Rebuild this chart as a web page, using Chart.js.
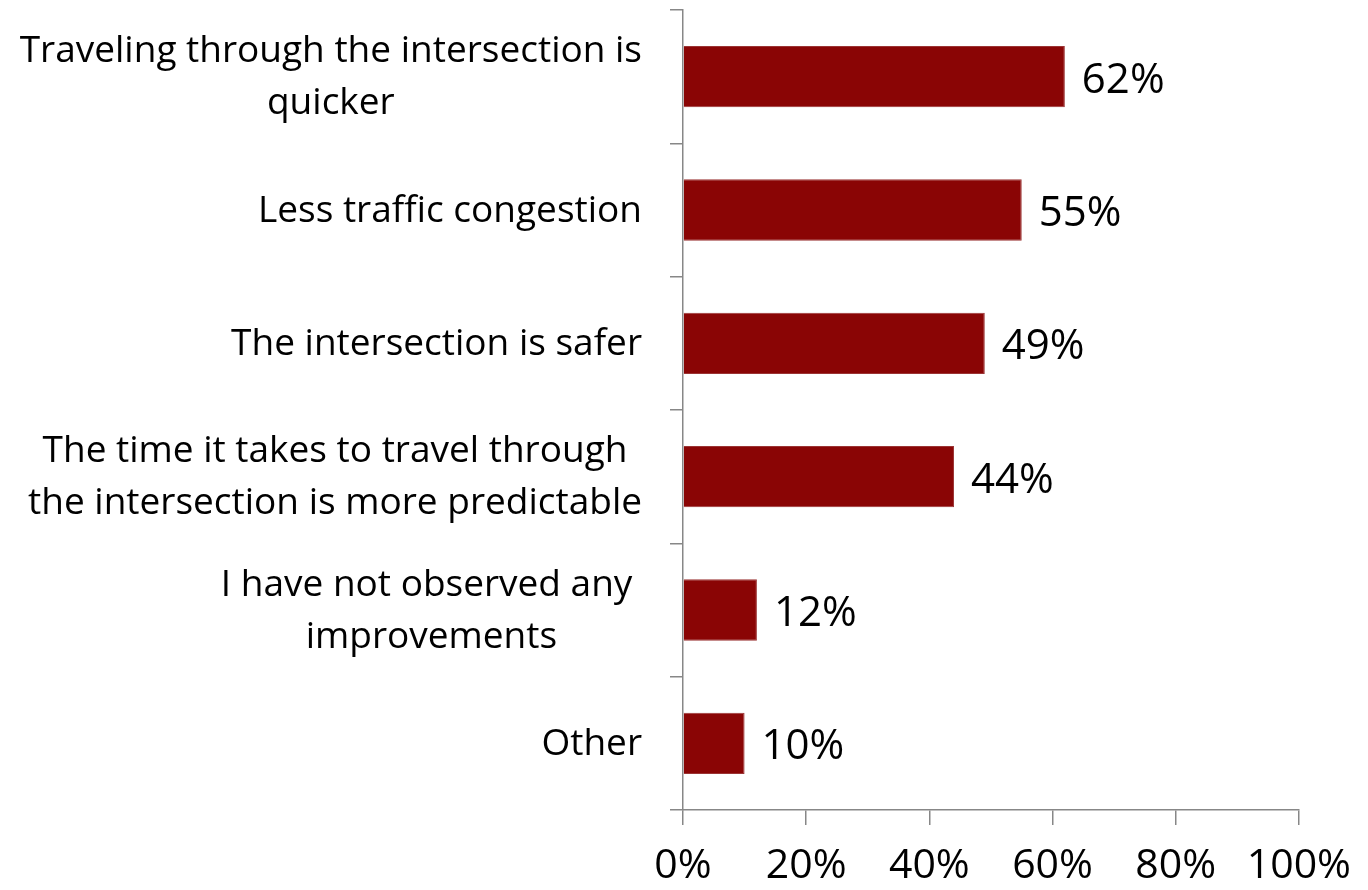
<!DOCTYPE html>
<html>
<head>
<meta charset="utf-8">
<script src="https://cdn.jsdelivr.net/npm/chart.js@4"></script>
<style>
  html, body { margin: 0; padding: 0; background: #fff; }
  #wrap { width: 1368px; height: 890px; }
</style>
</head>
<body>
<div id="wrap"><canvas id="c" width="1368" height="890"></canvas></div>
<script>
// Reasons given for the observed improvements (share of respondents, %)
const categories = [
  ["Traveling through the intersection is", "quicker"],
  ["Less traffic congestion"],
  ["The intersection is safer"],
  ["The time it takes to travel through", "the intersection is more predictable"],
  ["I have not observed any ", "improvements"],
  ["Other"]
];
const shares = [62, 55, 49, 44, 12, 10];
const axisTicks = [0, 20, 40, 60, 80, 100];

const FONT = "'Open Sans', Lato, 'Liberation Sans', sans-serif";
const AXIS_GREY = "#878787";
const BAR_RED = "#8a0505";

// Category labels: each block right-aligned against the axis, its lines centred within the block
const categoryLabels = {
  id: "categoryLabels",
  afterDraw(chart) {
    const ctx = chart.ctx;
    const y = chart.scales.y;
    const right = chart.chartArea.left - 41;
    const lineH = 52;
    ctx.save();
    ctx.font = "37px " + FONT;
    ctx.fillStyle = "#000";
    ctx.textAlign = "center";
    ctx.textBaseline = "middle";
    categories.forEach((lines, i) => {
      const cy = y.getPixelForValue(i) + 1;
      const w = Math.max(...lines.map(l => ctx.measureText(l).width));
      const cx = right - w / 2;
      const y0 = cy - (lines.length - 1) * lineH / 2;
      lines.forEach((l, k) => ctx.fillText(l, cx, y0 + k * lineH));
    });
    ctx.restore();
  }
};

// Value labels just past the end of each bar
const valueLabels = {
  id: "valueLabels",
  afterDatasetsDraw(chart) {
    const ctx = chart.ctx;
    const meta = chart.getDatasetMeta(0);
    ctx.save();
    ctx.font = "42px " + FONT;
    ctx.fillStyle = "#000";
    ctx.textAlign = "left";
    ctx.textBaseline = "middle";
    meta.data.forEach((bar, i) => {
      ctx.fillText(shares[i] + "%", bar.x + 17, bar.y + 4);
    });
    ctx.restore();
  }
};

new Chart(document.getElementById("c"), {
  type: "bar",
  data: {
    labels: categories,
    datasets: [{
      data: shares,
      backgroundColor: BAR_RED,
      borderColor: "#9b3434",
      borderWidth: 1,
      borderSkipped: "left",
      categoryPercentage: 1,
      barPercentage: 0.46
    }]
  },
  options: {
    indexAxis: "y",
    responsive: false,
    animation: false,
    devicePixelRatio: 1,
    layout: { padding: { top: 10, right: 69, bottom: 0, left: 0 } },
    plugins: { legend: { display: false }, tooltip: { enabled: false } },
    scales: {
      x: {
        min: 0,
        max: 100,
        afterBuildTicks(scale) { scale.ticks = axisTicks.map(v => ({ value: v })); },
        afterFit(scale) { scale.height = 80; },
        border: { display: true, color: AXIS_GREY, width: 1.5 },
        grid: { drawOnChartArea: false, drawTicks: true, tickLength: 15, color: AXIS_GREY, lineWidth: 1.5 },
        ticks: {
          padding: 17,
          color: "#000",
          font: { family: FONT, size: 41 },
          callback: v => v + "%",
          maxRotation: 0
        }
      },
      y: {
        offset: true,
        border: { display: true, color: AXIS_GREY, width: 1.5 },
        grid: { offset: true, drawOnChartArea: false, drawTicks: true, tickLength: 13, color: AXIS_GREY, lineWidth: 1.5 },
        ticks: { display: false },
        afterFit(scale) { scale.width = 683; }
      }
    }
  },
  plugins: [categoryLabels, valueLabels]
});
</script>
</body>
</html>
